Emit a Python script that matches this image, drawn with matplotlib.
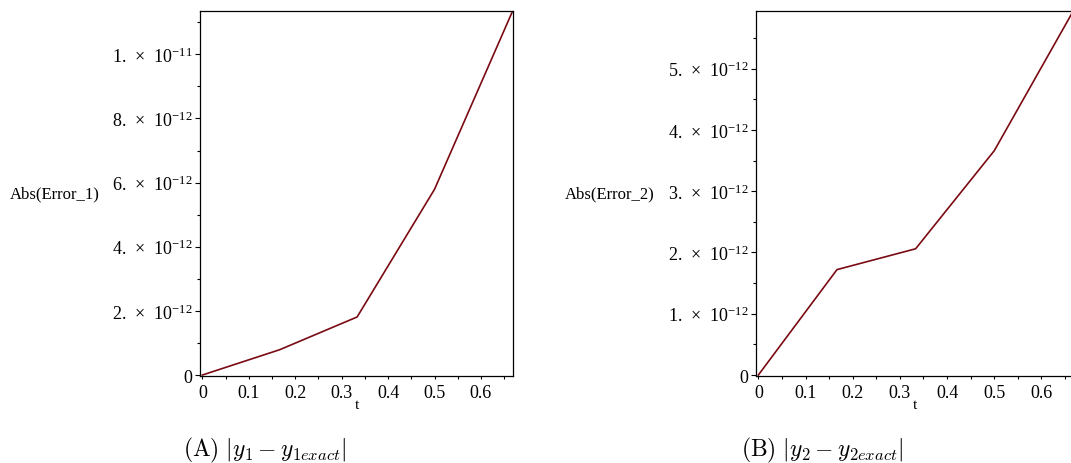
import numpy as np
import matplotlib
matplotlib.use("Agg")
import matplotlib.pyplot as plt
from matplotlib.ticker import FixedLocator, MultipleLocator, FuncFormatter

# Time nodes and absolute errors of the two components
t = [0, 1 / 6, 1 / 3, 1 / 2, 2 / 3]
err_1 = [0.0, 0.79e-12, 1.81e-12, 5.79e-12, 11.30e-12]
err_2 = [0.0, 1.72e-12, 2.06e-12, 3.66e-12, 5.93e-12]

y1_major = [0, 2e-12, 4e-12, 6e-12, 8e-12, 1e-11]
y2_major = [0, 1e-12, 2e-12, 3e-12, 4e-12, 5e-12]
x_major = [0, 0.1, 0.2, 0.3, 0.4, 0.5, 0.6]

line_color = "#7a0a12"
plt.rcParams["font.family"] = ["Liberation Serif", "DejaVu Serif"]


def maple_fmt(v, pos):
    # Maple style labels: "2. x 10^-12"
    if v == 0:
        return "0"
    exp = int(np.floor(np.log10(abs(v)) + 1e-9))
    mant = v / 10 ** exp
    return "%d.  \u00d7  10$\\mathregular{^{%d}}$" % (round(mant), exp)


def xfmt(v, pos):
    return "0" if abs(v) < 1e-9 else ("%.1f" % v)


def setup(ax, y, ymax, ymin, yticks, yminor, ylabel, label_x):
    ax.plot(t, y, color=line_color, lw=1.2)
    ax.set_xlim(-0.005, 0.669)
    ax.set_ylim(ymin, ymax)
    ax.xaxis.set_major_locator(FixedLocator(x_major))
    ax.xaxis.set_minor_locator(MultipleLocator(0.05))
    ax.xaxis.set_major_formatter(FuncFormatter(xfmt))
    ax.yaxis.set_major_locator(FixedLocator(yticks))
    ax.yaxis.set_minor_locator(MultipleLocator(yminor))
    ax.yaxis.set_major_formatter(FuncFormatter(maple_fmt))
    ax.tick_params(axis="both", which="major", direction="out", labelsize=13,
                   length=3.5, width=0.8, pad=2)
    ax.tick_params(axis="both", which="minor", direction="out", length=2, width=0.8)
    ax.tick_params(axis="x", which="major", length=2.5, pad=3)
    for s in ax.spines.values():
        s.set_linewidth(0.9)
    ax.set_xlabel("t", fontsize=11, labelpad=-2)
    ax.text(label_x, 0.5, ylabel, transform=ax.transAxes, fontsize=12,
            ha="right", va="center")


fig = plt.figure(figsize=(10.71, 4.64), dpi=100)

ax1 = fig.add_axes([200 / 1071, 87 / 464, 313 / 1071, 365 / 464])
setup(ax1, err_1, 11.35e-12, -0.03e-12, y1_major, 1e-12, "Abs(Error_1)", -0.319)

ax2 = fig.add_axes([756 / 1071, 87 / 464, 318 / 1071, 365 / 464])
setup(ax2, err_2, 5.94e-12, -0.016e-12, y2_major, 0.5e-12, "Abs(Error_2)", -0.318)

fig.text(265 / 1071, 1 - 450 / 464, r"$\mathrm{(A)}\ |y_1 - y_{1exact}|$",
         math_fontfamily="cm", fontsize=17, ha="center", va="center")
fig.text(822 / 1071, 1 - 450 / 464, r"$\mathrm{(B)}\ |y_2 - y_{2exact}|$",
         math_fontfamily="cm", fontsize=17, ha="center", va="center")

fig.savefig("out.png", dpi=100)
